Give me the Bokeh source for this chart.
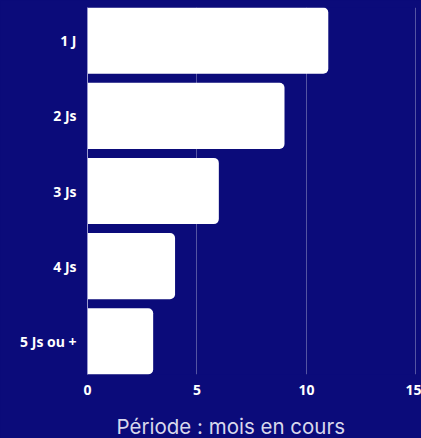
from bokeh.plotting import figure
from bokeh.models import FactorRange, Title, FixedTicker
from bokeh.embed import file_html
from bokeh.resources import INLINE

categories = ["1 J", "2 Js", "3 Js", "4 Js", "5 Js ou +"]
values = [11, 9, 6, 4, 3]
x_ticks = [0, 5, 10, 15]
title_text = "Période : mois en cours"

BG = "#0b0b7a"

cats_rev = categories[::-1]
p = figure(
    frame_width=329, frame_height=367,
    y_range=FactorRange(factors=cats_rev, range_padding=-0.06, range_padding_units="absolute"),
    x_range=(0, 15.03),
    output_backend="svg", toolbar_location=None,
    min_border_left=87, min_border_right=5, min_border_top=7, min_border_bottom=0,
)
p.background_fill_color = BG
p.border_fill_color = BG
p.outline_line_color = None
p.styles = {"background-color": BG}

p.hbar(y=categories, right=values, left=0, height=0.88, fill_color="white",
       line_color=None, border_radius=(0, 5, 5, 0))

p.ygrid.grid_line_color = None
p.xgrid.grid_line_color = "white"
p.xgrid.grid_line_alpha = 0.3
p.xgrid.ticker = FixedTicker(ticks=x_ticks)

p.xaxis.ticker = FixedTicker(ticks=x_ticks)
p.xaxis.axis_line_color = None
p.xaxis.major_tick_line_color = None
p.xaxis.major_tick_out = 0
p.xaxis.major_tick_in = 0
p.xaxis.minor_tick_line_color = None
p.xaxis.major_label_text_color = "white"
p.xaxis.major_label_text_font = "Open Sans"
p.xaxis.major_label_text_font_style = "bold"
p.xaxis.major_label_text_font_size = "14px"
p.xaxis.major_label_standoff = 10

p.yaxis.axis_line_color = "#9a9ad0"
p.yaxis.axis_line_width = 1
p.yaxis.major_tick_line_color = None
p.yaxis.major_tick_out = 0
p.yaxis.major_tick_in = 0
p.yaxis.minor_tick_line_color = None
p.yaxis.major_label_text_color = "white"
p.yaxis.major_label_text_font = "Open Sans"
p.yaxis.major_label_text_font_style = "bold"
p.yaxis.major_label_text_font_size = "14px"
p.yaxis.major_label_standoff = 11

t = Title(text=title_text, align="left", offset=29, text_font="Inter",
          text_font_style="normal", text_font_size="20.5px", text_color="#d8d8ec",
          standoff=28)
p.add_layout(t, "below")

html = file_html(p, INLINE)
html = html.replace("<body>", '<body style="margin:0;background:%s;overflow:hidden">' % BG, 1)
open("out.html", "w").write(html)
